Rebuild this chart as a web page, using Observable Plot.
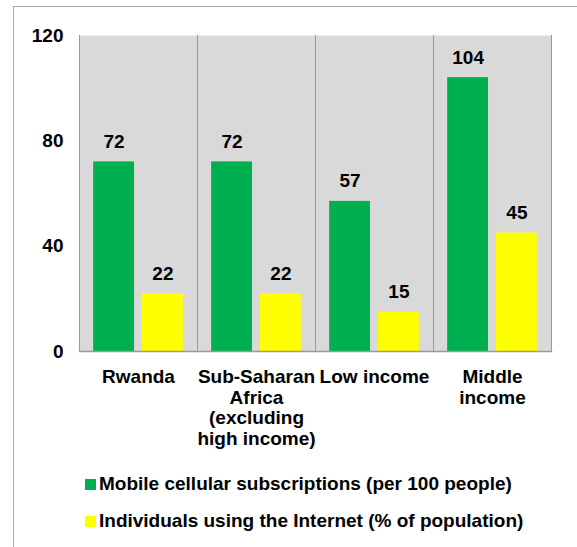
<!DOCTYPE html>
<html>
<head>
<meta charset="utf-8">
<script src="https://cdn.jsdelivr.net/npm/d3@7"></script>
<script src="https://cdn.jsdelivr.net/npm/@observablehq/plot@0.6"></script>
<style>
  html, body { margin: 0; padding: 0; background: #fff; }
  #wrap { position: relative; width: 577px; height: 547px; overflow: hidden; font-family: "Liberation Sans", Arial, sans-serif; }
  #border { position: absolute; left: 13px; top: 6px; right: -2px; bottom: -2px; border-left: 1px solid #a6a6a6; border-top: 1px solid #a6a6a6; }
  #chart { position: absolute; left: 0; top: 0; }
  .leg { position: absolute; left: 85px; font-size: 19px; line-height: 22px; font-weight: bold; color: #000; display: flex; align-items: center; white-space: nowrap; }
  .sw { width: 11px; height: 11px; margin-right: 3px; }
</style>
</head>
<body>
<div id="wrap">
  <div id="border"></div>
  <div id="chart"></div>
</div>
<script>
const categories = ["Rwanda", "Sub-Saharan\nAfrica\n(excluding\nhigh income)", "Low income", "Middle\nincome"];
const series = ["Mobile cellular subscriptions (per 100 people)", "Individuals using the Internet (% of population)"];
const mobile = [72, 72, 57, 104];
const internet = [22, 22, 15, 45];
const colors = ["#00B050", "#FFFF00"];
const yTicks = [0, 40, 80, 120];

const data = [];
categories.forEach((c, i) => {
  data.push({cat: c, series: series[0], value: mobile[i]});
  data.push({cat: c, series: series[1], value: internet[i]});
});

const plot = Plot.plot({
  width: 577,
  height: 460,
  marginLeft: 78,
  marginRight: 25,
  marginTop: 35,
  marginBottom: 109,
  style: {fontFamily: "'Liberation Sans', Arial, sans-serif", fontSize: "19px", fontWeight: "bold", color: "#000", background: "transparent"},
  fx: {domain: categories, paddingInner: 0, paddingOuter: 0, label: null},
  x: {domain: series, paddingInner: 0.163, paddingOuter: 0.29, axis: null, round: false},
  y: {domain: [0, 120], label: null},
  color: {domain: series, range: colors},
  marks: [
    Plot.frame({fill: "#D9D9D9", stroke: null}),
    Plot.barY(data, {fx: "cat", x: "series", y: "value", fill: "series"}),
    Plot.frame({anchor: "left", stroke: "#9a9a9a", strokeWidth: 1}),
    Plot.frame({anchor: "right", stroke: "#9a9a9a", strokeWidth: 1}),
    Plot.frame({anchor: "bottom", stroke: "#9a9a9a", strokeWidth: 1.5}),
    Plot.text(data, {fx: "cat", x: "series", y: "value", text: d => String(d.value), dy: -20, fill: "#000", fontWeight: "bold", fontSize: 19}),
    Plot.axisY(yTicks, {tickSize: 0, tickPadding: 16, label: null, tickFormat: d => String(d), fontSize: 19, fontWeight: "bold"}),
    Plot.axisFx({anchor: "bottom", tickSize: 0, tickPadding: 17, lineHeight: 1.08, label: null, fontSize: 19, fontWeight: "bold"})
  ]
});
document.getElementById("chart").appendChild(plot);

const wrap = document.getElementById("wrap");
const legTops = [473, 510];
series.forEach((s, i) => {
  const row = document.createElement("div");
  row.className = "leg";
  row.style.top = legTops[i] + "px";
  const sw = document.createElement("div");
  sw.className = "sw";
  sw.style.background = colors[i];
  const t = document.createElement("span");
  t.textContent = s;
  row.appendChild(sw);
  row.appendChild(t);
  wrap.appendChild(row);
});
</script>
</body>
</html>
